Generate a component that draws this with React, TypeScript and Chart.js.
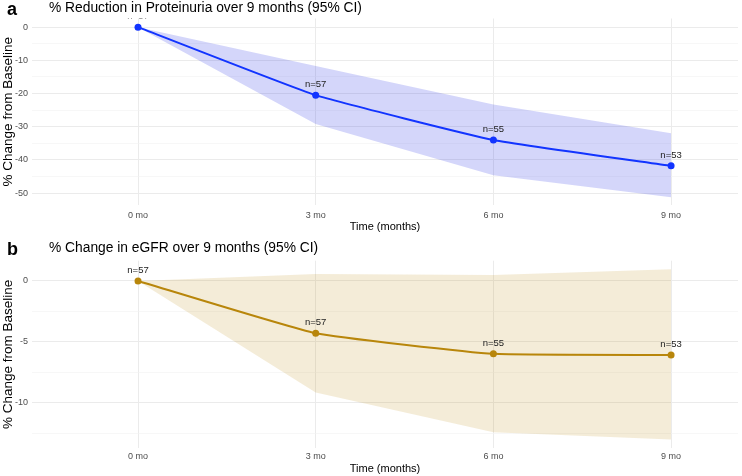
import React, { useEffect, useRef } from 'react';
import { Chart, registerables } from 'chart.js';
Chart.register(...registerables);

const FONT = '"Liberation Sans", Arial, sans-serif';

const months = [0, 3, 6, 9];
const xTickLabels = ['0 mo', '3 mo', '6 mo', '9 mo'];

const protMean = [0, -20.5, -34.0, -41.8];
const protLower = [0, -29.2, -44.6, -51.3];
const protUpper = [0, -11.7, -23.3, -32.0];
const protN = [57, 57, 55, 53];
const protYTicks = [0, -10, -20, -30, -40, -50];

const egfrMean = [0, -4.29, -5.98, -6.07];
const egfrLower = [0, -9.15, -12.4, -13.0];
const egfrUpper = [0, 0.57, 0.49, 0.96];
const egfrN = [57, 57, 55, 53];
const egfrYTicks = [0, -5, -10];

type Panel = {
  letter: string;
  title: string;
  mean: number[];
  lower: number[];
  upper: number[];
  n: number[];
  yTicks: number[];
  yMin: number;
  yMax: number;
  line: string;
  ribbon: string;
  padTop: number;
  xAxisHeight: number;
  xTickPad: number;
  xTitlePad: number;
  titleY: number;
  letterY: number;
};

const panels: Panel[] = [
  {
    letter: 'a',
    title: '% Reduction in Proteinuria over 9 months (95% CI)',
    mean: protMean, lower: protLower, upper: protUpper, n: protN, yTicks: protYTicks,
    yMin: -53.6, yMax: 2.6,
    line: '#1234FF', ribbon: 'rgba(40,50,230,0.2)',
    padTop: 18.5, xAxisHeight: 33, xTickPad: 5, xTitlePad: 4.7, titleY: 11.5, letterY: 15,
  },
  {
    letter: 'b',
    title: '% Change in eGFR over 9 months (95% CI)',
    mean: egfrMean, lower: egfrLower, upper: egfrUpper, n: egfrN, yTicks: egfrYTicks,
    yMin: -13.7, yMax: 1.66,
    line: '#B8860B', ribbon: 'rgba(184,134,11,0.16)',
    padTop: 22.7, xAxisHeight: 28, xTickPad: 3.5, xTitlePad: 0.8, titleY: 14, letterY: 17,
  },
];

function pts(ys: number[]) {
  return months.map((m, i) => ({ x: m, y: ys[i] }));
}

function makeConfig(p: Panel): any {
  const step = Math.abs(p.yTicks[0] - p.yTicks[1]);
  const half = step / 2;
  const gridVals: number[] = [];
  for (let v = Math.ceil(p.yMin / half) * half; v <= p.yMax + 1e-9; v += half) {
    gridVals.push(Math.round(v * 1000) / 1000);
  }
  const isMajor = (v: number) => p.yTicks.some((t) => Math.abs(t - v) < 1e-6);

  const overlay = {
    id: 'overlay' + p.letter,
    afterDatasetsDraw(chart: any) {
      const { ctx, chartArea } = chart;
      const meta = chart.getDatasetMeta(0);
      ctx.save();
      ctx.beginPath();
      ctx.rect(chartArea.left, chartArea.top, chartArea.right - chartArea.left, chartArea.bottom - chartArea.top);
      ctx.clip();
      ctx.fillStyle = '#222';
      ctx.font = `9.5px ${FONT}`;
      ctx.textAlign = 'center';
      ctx.textBaseline = 'middle';
      meta.data.forEach((el: any, i: number) => {
        ctx.fillText('n=' + p.n[i], el.x, el.y - 10.5);
      });
      ctx.restore();
    },
    afterDraw(chart: any) {
      const { ctx } = chart;
      ctx.save();
      ctx.fillStyle = '#000';
      ctx.textBaseline = 'alphabetic';
      ctx.textAlign = 'left';
      ctx.font = `bold 18px ${FONT}`;
      ctx.fillText(p.letter, 7, p.letterY);
      ctx.font = `13.8px ${FONT}`;
      ctx.fillText(p.title, 49, p.titleY);
      ctx.restore();
    },
  };

  return {
    type: 'line',
    data: {
      datasets: [
        {
          data: pts(p.mean),
          borderColor: p.line,
          backgroundColor: p.line,
          borderWidth: 2,
          pointRadius: 3.5,
          pointBackgroundColor: p.line,
          pointBorderWidth: 0,
          tension: 0.12,
          fill: false,
        },
        {
          data: pts(p.upper),
          borderWidth: 0,
          borderColor: 'rgba(0,0,0,0)',
          pointRadius: 0,
          fill: false,
          tension: 0,
        },
        {
          data: pts(p.lower),
          borderWidth: 0,
          borderColor: 'rgba(0,0,0,0)',
          backgroundColor: p.ribbon,
          pointRadius: 0,
          fill: '-1',
          tension: 0,
        },
      ],
    },
    options: {
      animation: false,
      responsive: false,
      devicePixelRatio: 1,
      layout: { padding: { top: p.padTop, right: 2, left: 0, bottom: 0 } },
      plugins: { legend: { display: false }, tooltip: { enabled: false }, title: { display: false } },
      scales: {
        x: {
          type: 'linear',
          min: -1.79,
          max: 10.13,
          afterBuildTicks: (s: any) => {
            s.ticks = months.map((m) => ({ value: m }));
          },
          afterFit: (s: any) => {
            s.height = p.xAxisHeight;
          },
          border: { display: false },
          grid: { drawTicks: false, color: '#EBEBEB', lineWidth: 1 },
          ticks: {
            autoSkip: false,
            maxRotation: 0,
            padding: p.xTickPad,
            color: '#4D4D4D',
            font: { size: 9, family: FONT },
            callback: (v: number) => {
              const i = months.indexOf(v);
              return i >= 0 ? xTickLabels[i] : '';
            },
          },
          title: {
            display: true,
            text: 'Time (months)',
            color: '#000',
            font: { size: 11, family: FONT },
            padding: { top: 0, bottom: p.xTitlePad },
          },
        },
        y: {
          min: p.yMin,
          max: p.yMax,
          afterBuildTicks: (s: any) => {
            s.ticks = gridVals.map((v) => ({ value: v }));
          },
          afterFit: (s: any) => {
            s.width = 32;
          },
          border: { display: false },
          grid: {
            drawTicks: false,
            color: (c: any) => (isMajor(c.tick.value) ? '#EBEBEB' : '#F1F1F1'),
            lineWidth: (c: any) => (isMajor(c.tick.value) ? 1 : 0.6),
          },
          ticks: {
            autoSkip: false,
            padding: 4,
            color: '#4D4D4D',
            font: { size: 9, family: FONT },
            callback: (v: number) => (isMajor(v) ? String(v) : ''),
          },
          title: {
            display: true,
            text: '% Change from Baseline',
            color: '#000',
            font: { size: 13.5, family: FONT },
            padding: { top: 0, bottom: 0 },
          },
        },
      },
    },
    plugins: [overlay],
  };
}

function PanelChart({ p }: { p: Panel }) {
  const ref = useRef<HTMLCanvasElement>(null);
  useEffect(() => {
    if (!ref.current) return;
    const chart = new Chart(ref.current, makeConfig(p));
    return () => chart.destroy();
  }, [p]);
  return <canvas ref={ref} width={742} height={238} style={{ display: 'block', width: 742, height: 238 }} />;
}

export default function App() {
  return (
    <div style={{ position: 'absolute', left: 0, top: 0, width: 742, height: 476, background: '#fff' }}>
      {panels.map((p) => (
        <PanelChart key={p.letter} p={p} />
      ))}
    </div>
  );
}
